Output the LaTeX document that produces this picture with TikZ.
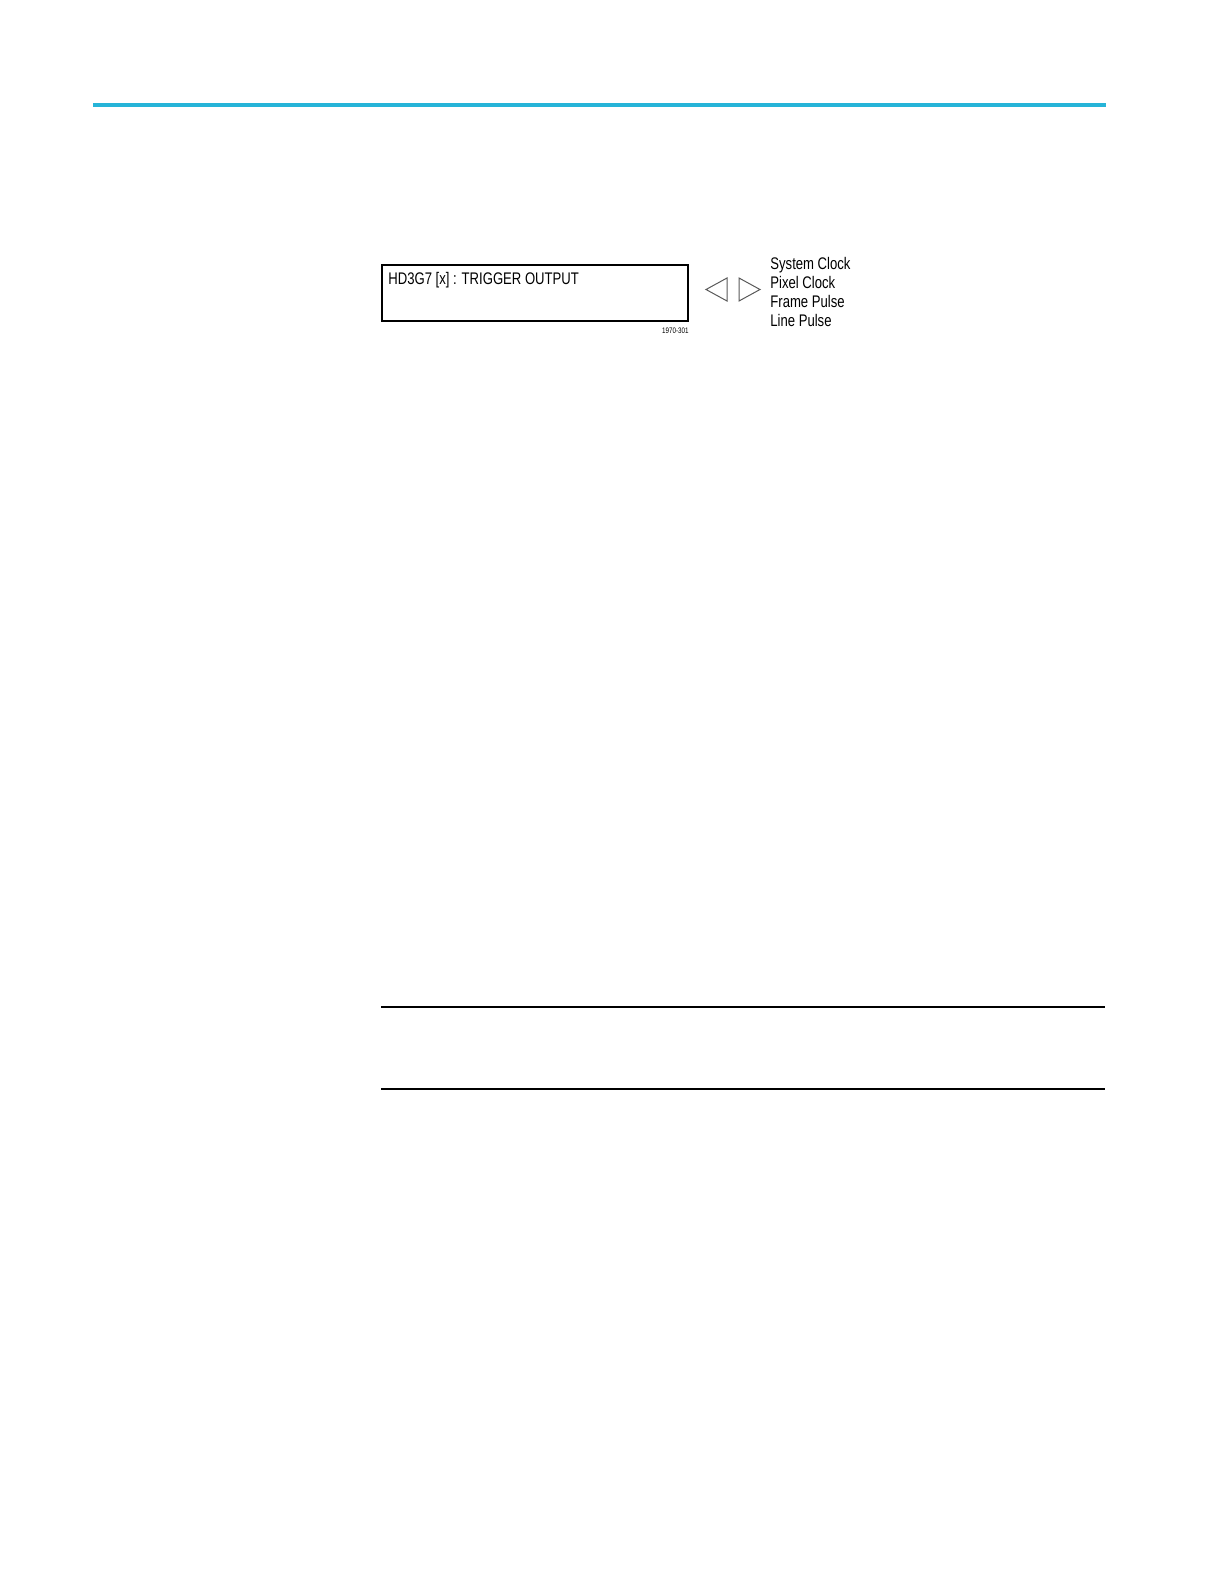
\documentclass[tikz,border=0pt]{standalone}
\usepackage{fontspec}
\setmainfont{Liberation Sans}
\newfontfamily\narrowsf[FakeStretch=0.78]{Liberation Sans}
\definecolor{rulecyan}{RGB}{38,180,216}
\tikzset{
  paneltext/.style={anchor=base west, inner sep=0pt, font=\narrowsf\fontsize{8.4}{10}\selectfont},
  menutext/.style={anchor=base west, inner sep=0pt, font=\narrowsf\fontsize{8.4}{10}\selectfont},
  arrowtri/.style={draw=black!65, line width=0.5pt},
}
\begin{document}
\begin{tikzpicture}[x=0.5pt,y=-0.5pt]
  \useasboundingbox (0,0) rectangle (1224,1584);
  % header rule
  \draw[rulecyan, line width=2.2pt] (93,105) -- (1106,105);
  % display panel
  \node[draw, line width=1pt, inner sep=0pt, minimum width=153pt, minimum height=28pt] (display) at (535,293) {};
  \node[paneltext] (title) at (388,284) {HD3G7 [x] : TRIGGER OUTPUT};
  \node[anchor=east, inner sep=0pt, font=\narrowsf\fontsize{4}{4}\selectfont] (figno) at (689,331) {1970-301};
  % left and right keys
  \draw[arrowtri] (727,278) -- (706,289.5) -- (727,301) -- cycle;
  \draw[arrowtri] (739,278) -- (760,289.5) -- (739,301) -- cycle;
  % choices
  \foreach \choice [count=\i] in {System Clock, Pixel Clock, Frame Pulse, Line Pulse}
    \node[menutext] (choice\i) at (770,{250+19*\i}) {\choice};
  % note rules
  \draw[line width=0.9pt] (381,1007) -- (1105,1007);
  \draw[line width=0.9pt] (381,1089) -- (1105,1089);
\end{tikzpicture}
\end{document}
